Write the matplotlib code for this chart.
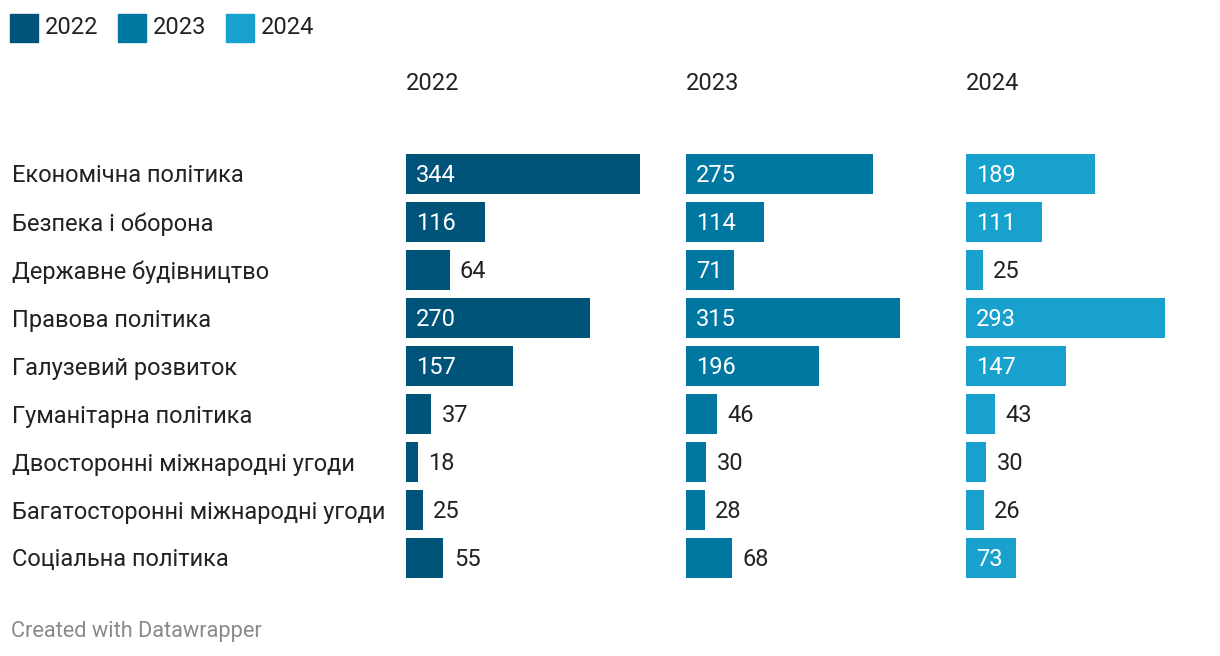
import matplotlib.pyplot as plt
from matplotlib.patches import Rectangle
import numpy as np

plt.rcParams['font.family'] = ['Roboto', 'DejaVu Sans']

# Data
categories = ['Економічна політика', 'Безпека і оборона', 'Державне будівництво',
              'Правова політика', 'Галузевий розвиток', 'Гуманітарна політика',
              'Двосторонні міжнародні угоди', 'Багатосторонні міжнародні угоди',
              'Соціальна політика']
years = ['2022', '2023', '2024']
values_2022 = [344, 116, 64, 270, 157, 37, 18, 25, 55]
values_2023 = [275, 114, 71, 315, 196, 46, 30, 28, 68]
values_2024 = [189, 111, 25, 293, 147, 43, 30, 26, 73]
series = [values_2022, values_2023, values_2024]
colors = ['#005379', '#0077a1', '#18a1cd']

W, H = 1220, 656
fig = plt.figure(figsize=(W / 100, H / 100), dpi=100)

def fx(x):
    return x / W

def fy(y):
    return 1 - y / H

# pixel layout
panel_left = [406, 686, 966]
panel_width = 234
top, row_h, bar_h = 150, 48, 40
n = len(categories)
xmax = max(max(s) for s in series)
fs = 17
text_color = '#222222'

for k, (vals, col, yr) in enumerate(zip(series, colors, years)):
    ax = fig.add_axes([fx(panel_left[k]), fy(top + n * row_h), panel_width / W, n * row_h / H])
    y = np.arange(n)
    ax.barh(y, vals, height=bar_h / row_h, color=col)
    ax.set_xlim(0, xmax)
    ax.set_ylim(n - 0.5, -0.5)
    ax.axis('off')
    for i, v in enumerate(vals):
        if v >= 70:
            ax.annotate(str(v), (0, i), xytext=(7.2, -1.4), textcoords='offset points',
                        ha='left', va='center', color='white', fontsize=fs)
        else:
            ax.annotate(str(v), (v, i), xytext=(7.4, -1.4), textcoords='offset points',
                        ha='left', va='center', color=text_color, fontsize=fs)
    # column title
    fig.text(fx(panel_left[k]), fy(83), yr, ha='left', va='center',
             fontsize=fs, color=text_color)

# category labels
for i, c in enumerate(categories):
    fig.text(fx(12), fy(top + row_h / 2 + i * row_h + 2), c, ha='left', va='center',
             fontsize=fs, color=text_color)

# legend
leg_x = [10, 118, 226]
for x0, col, yr in zip(leg_x, colors, years):
    fig.patches.append(Rectangle((fx(x0), fy(42)), 28 / W, 28 / H, color=col,
                                 transform=fig.transFigure, figure=fig))
    fig.text(fx(x0 + 35), fy(28), yr, ha='left', va='center', fontsize=fs, color=text_color)

# footer
fig.text(fx(11), fy(632), 'Created with Datawrapper', ha='left', va='center',
         fontsize=15.7, color='#8a8a8a')

plt.savefig('out.png', dpi=100)
